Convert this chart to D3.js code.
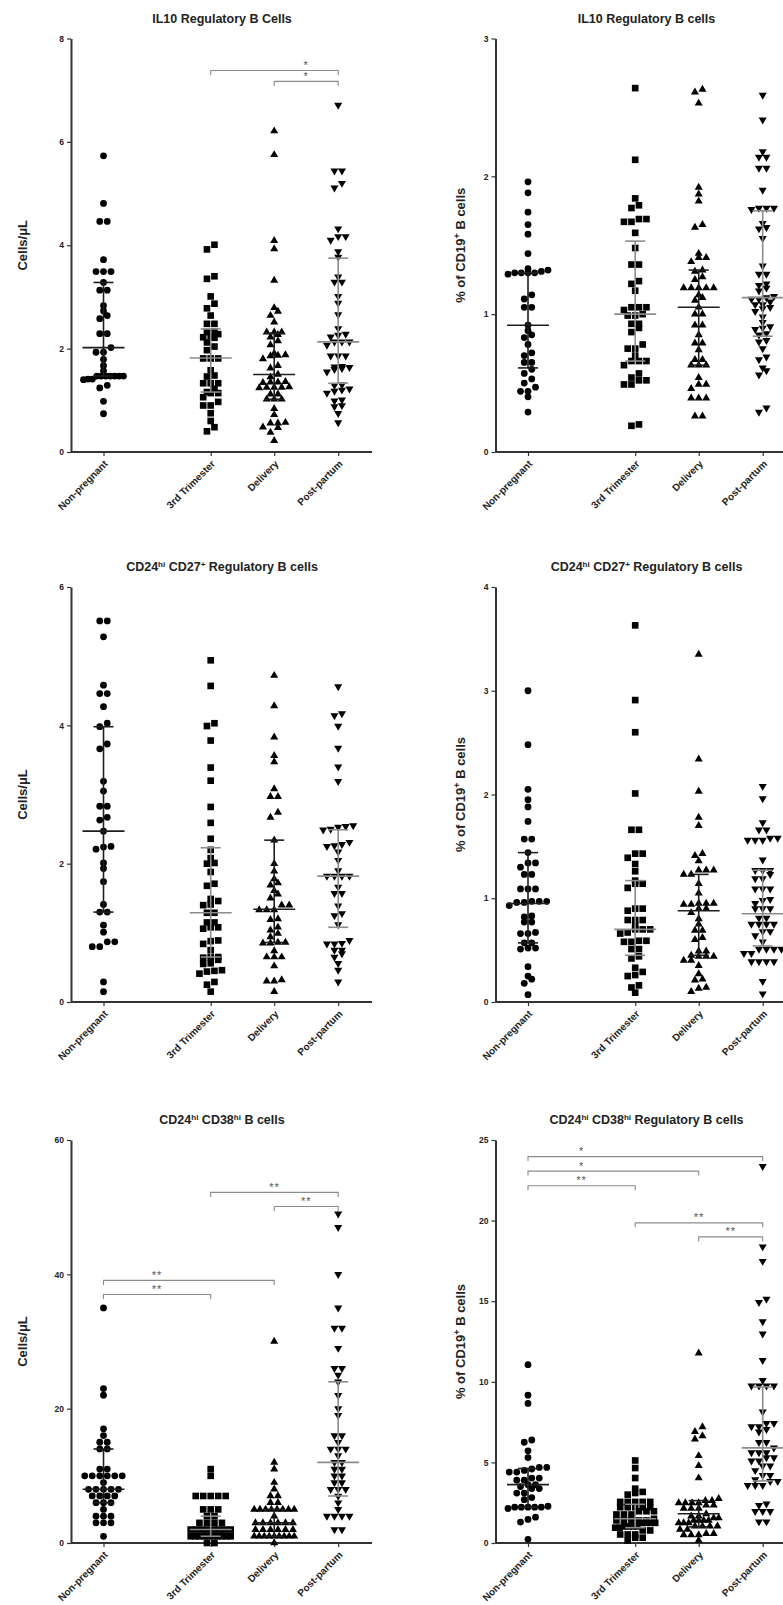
<!DOCTYPE html>
<html>
<head>
<meta charset="utf-8">
<script src="https://cdn.jsdelivr.net/npm/d3@7"></script>
<style>
  body { margin: 0; background: #fff; }
  svg { display: block; font-family: "Liberation Sans", Arial, sans-serif; }
</style>
</head>
<body>
<div id="chart"></div>
<script>
// Gruppen (x-Achse)
const groups = ["Non-pregnant", "3rd Trimester", "Delivery", "Post-partum"];

// Panel 1: IL10 Regulatory B Cells, Cells/μL
const il10CountNP = [5.73, 4.81, 4.46, 4.46, 3.72, 3.49, 3.49, 3.49, 3.28, 3.13, 3.13, 2.83, 2.73, 2.64, 2.58, 2.29, 2.29, 2.02, 1.93, 1.93, 1.79, 1.67, 1.57, 1.47, 1.47, 1.47, 1.47, 1.47, 1.47, 1.47, 1.41, 1.41, 1.40, 1.29, 1.24, 0.98, 0.74];
const il10CountT3 = [4.01, 3.92, 3.40, 3.35, 3.01, 2.87, 2.78, 2.64, 2.48, 2.48, 2.33, 2.32, 2.28, 2.24, 2.22, 2.21, 2.12, 2.04, 1.97, 1.81, 1.81, 1.81, 1.58, 1.48, 1.46, 1.33, 1.33, 1.33, 1.22, 1.16, 1.14, 1.14, 1.06, 0.97, 0.90, 0.90, 0.75, 0.60, 0.48, 0.40];
const il10CountDel = [6.21, 5.75, 4.09, 3.93, 3.32, 2.79, 2.72, 2.64, 2.51, 2.32, 2.32, 2.32, 2.27, 2.22, 2.15, 2.07, 1.91, 1.88, 1.87, 1.86, 1.80, 1.67, 1.62, 1.50, 1.45, 1.36, 1.35, 1.35, 1.34, 1.26, 1.25, 1.25, 1.25, 1.24, 1.12, 1.12, 1.02, 1.02, 1.02, 0.84, 0.72, 0.57, 0.56, 0.56, 0.48, 0.47, 0.38, 0.22];
const il10CountPP = [6.71, 5.44, 5.44, 5.20, 5.11, 4.32, 4.17, 4.17, 4.10, 3.88, 3.77, 3.39, 3.29, 3.29, 3.01, 2.88, 2.66, 2.39, 2.28, 2.26, 2.23, 2.13, 2.13, 2.13, 2.07, 1.86, 1.86, 1.86, 1.66, 1.65, 1.64, 1.62, 1.60, 1.55, 1.30, 1.29, 1.22, 1.20, 1.18, 1.14, 1.01, 0.99, 0.90, 0.88, 0.75, 0.57];
const il10CountIQR = [[1.47, 2.02, 3.28], [1.16, 1.82, 2.38], [1.02, 1.50, 2.30], [1.33, 2.13, 3.75]]; // Q1, Median, Q3
const il10CountSig = [
  {from: "3rd Trimester", to: "Post-partum", at: 7.38, label: "*", over: ["Delivery", "Post-partum"]},
  {from: "Delivery", to: "Post-partum", at: 7.17, label: "*", over: ["Delivery", "Post-partum"]}
];

// Panel 2: IL10 Regulatory B cells, % of CD19+
const il10PctNP = [1.96, 1.88, 1.74, 1.65, 1.58, 1.44, 1.33, 1.32, 1.31, 1.30, 1.30, 1.30, 1.30, 1.29, 1.14, 1.11, 1.05, 1.05, 0.92, 0.88, 0.85, 0.83, 0.78, 0.72, 0.70, 0.65, 0.65, 0.60, 0.57, 0.53, 0.50, 0.47, 0.44, 0.44, 0.40, 0.29];
const il10PctT3 = [2.64, 2.12, 1.84, 1.79, 1.77, 1.69, 1.69, 1.67, 1.67, 1.59, 1.48, 1.36, 1.36, 1.24, 1.22, 1.17, 1.05, 1.05, 1.05, 1.03, 1.00, 0.99, 0.99, 0.93, 0.93, 0.90, 0.87, 0.78, 0.75, 0.75, 0.70, 0.66, 0.66, 0.66, 0.63, 0.57, 0.54, 0.52, 0.52, 0.49, 0.49, 0.20, 0.19];
const il10PctDel = [2.63, 2.61, 2.53, 1.92, 1.87, 1.82, 1.65, 1.63, 1.44, 1.41, 1.41, 1.38, 1.32, 1.31, 1.27, 1.25, 1.19, 1.19, 1.19, 1.19, 1.19, 1.14, 1.12, 1.10, 1.05, 1.00, 1.00, 0.92, 0.92, 0.85, 0.79, 0.79, 0.74, 0.67, 0.67, 0.63, 0.63, 0.63, 0.54, 0.49, 0.49, 0.46, 0.39, 0.39, 0.39, 0.26, 0.26];
const il10PctPP = [2.59, 2.41, 2.18, 2.14, 2.14, 2.06, 2.06, 1.90, 1.77, 1.77, 1.77, 1.76, 1.66, 1.63, 1.62, 1.55, 1.35, 1.29, 1.29, 1.22, 1.21, 1.19, 1.17, 1.13, 1.12, 1.11, 1.11, 1.09, 1.07, 1.07, 1.05, 1.04, 1.02, 0.98, 0.94, 0.91, 0.90, 0.89, 0.86, 0.85, 0.81, 0.80, 0.75, 0.69, 0.67, 0.61, 0.59, 0.56, 0.32, 0.29];
const il10PctIQR = [[0.61, 0.92, 1.30], [0.66, 1.00, 1.53], [0.63, 1.05, 1.32], [0.84, 1.12, 1.75]];

// Panel 3: CD24hi CD27+ Regulatory B cells, Cells/μL
const cd27CountNP = [5.51, 5.51, 5.28, 4.58, 4.46, 4.46, 4.27, 4.03, 3.98, 3.73, 3.66, 3.19, 3.05, 2.83, 2.83, 2.67, 2.63, 2.47, 2.25, 2.24, 2.21, 2.01, 1.93, 1.74, 1.41, 1.30, 1.30, 1.11, 1.01, 0.87, 0.87, 0.80, 0.80, 0.29, 0.15];
const cd27CountT3 = [4.94, 4.57, 4.03, 3.99, 3.78, 3.39, 3.20, 2.82, 2.59, 2.36, 2.20, 2.08, 2.01, 2.00, 1.88, 1.71, 1.68, 1.49, 1.46, 1.41, 1.40, 1.29, 1.29, 1.15, 1.15, 1.08, 1.08, 1.06, 0.89, 0.88, 0.84, 0.75, 0.65, 0.65, 0.64, 0.61, 0.56, 0.55, 0.46, 0.45, 0.44, 0.41, 0.29, 0.25, 0.15];
const cd27CountDel = [4.72, 4.28, 3.83, 3.56, 3.47, 3.08, 2.97, 2.97, 2.74, 2.67, 2.34, 2.00, 1.89, 1.78, 1.72, 1.69, 1.61, 1.56, 1.50, 1.40, 1.40, 1.33, 1.33, 1.33, 1.20, 1.19, 1.08, 1.04, 0.99, 0.94, 0.86, 0.86, 0.85, 0.85, 0.74, 0.65, 0.65, 0.65, 0.52, 0.32, 0.30, 0.30, 0.15];
const cd27CountPP = [4.56, 4.17, 4.14, 3.99, 3.67, 3.40, 3.19, 2.55, 2.54, 2.53, 2.50, 2.49, 2.31, 2.28, 2.26, 2.25, 2.17, 2.05, 1.90, 1.82, 1.82, 1.82, 1.82, 1.66, 1.57, 1.57, 1.39, 1.28, 1.25, 1.12, 0.89, 0.85, 0.84, 0.84, 0.75, 0.75, 0.70, 0.65, 0.56, 0.46, 0.29];
const cd27CountIQR = [[1.30, 2.47, 3.98], [0.65, 1.29, 2.23], [0.86, 1.34, 2.34], [1.08, 1.82, 2.49]];

// Panel 4: CD24hi CD27+ Regulatory B cells, % of CD19+
const cd27PctNP = [3.00, 2.48, 2.05, 1.95, 1.88, 1.74, 1.57, 1.57, 1.44, 1.34, 1.34, 1.30, 1.23, 1.23, 1.09, 1.09, 1.09, 0.97, 0.97, 0.97, 0.96, 0.96, 0.93, 0.83, 0.82, 0.77, 0.77, 0.67, 0.66, 0.66, 0.57, 0.57, 0.52, 0.52, 0.51, 0.34, 0.25, 0.22, 0.18, 0.07];
const cd27PctT3 = [3.63, 2.91, 2.60, 2.01, 1.66, 1.66, 1.43, 1.43, 1.39, 1.33, 1.26, 1.17, 1.14, 1.14, 1.10, 0.90, 0.90, 0.88, 0.79, 0.79, 0.79, 0.74, 0.70, 0.70, 0.70, 0.67, 0.66, 0.59, 0.59, 0.58, 0.58, 0.51, 0.51, 0.44, 0.42, 0.33, 0.29, 0.26, 0.25, 0.16, 0.14, 0.09];
const cd27PctDel = [3.35, 2.34, 2.03, 1.78, 1.70, 1.43, 1.41, 1.36, 1.27, 1.27, 1.27, 1.23, 1.23, 1.14, 1.05, 0.95, 0.95, 0.95, 0.94, 0.94, 0.90, 0.90, 0.86, 0.80, 0.75, 0.69, 0.69, 0.62, 0.60, 0.49, 0.49, 0.45, 0.44, 0.44, 0.44, 0.40, 0.40, 0.35, 0.27, 0.22, 0.21, 0.14, 0.13, 0.10];
const cd27PctPP = [2.08, 1.96, 1.73, 1.66, 1.66, 1.58, 1.58, 1.56, 1.56, 1.56, 1.37, 1.27, 1.27, 1.27, 1.23, 1.19, 1.19, 1.09, 1.09, 1.09, 0.99, 0.98, 0.95, 0.90, 0.90, 0.90, 0.81, 0.81, 0.75, 0.75, 0.75, 0.75, 0.68, 0.68, 0.64, 0.58, 0.51, 0.51, 0.51, 0.51, 0.47, 0.47, 0.39, 0.39, 0.39, 0.39, 0.20, 0.08];
const cd27PctIQR = [[0.57, 0.95, 1.44], [0.45, 0.70, 1.17], [0.45, 0.88, 1.23], [0.54, 0.85, 1.27]];

// Panel 5: CD24hi CD38hi B cells, Cells/μL
const cd38CountNP = [35, 23, 22, 17, 16, 15, 15, 14, 14, 11, 11, 10, 10, 10, 10, 10, 10, 9, 8, 8, 8, 8, 8, 7, 7, 7, 7, 6, 6, 6, 5, 4, 4, 4, 3, 3, 3, 1];
const cd38CountT3 = [11, 10, 7, 7, 7, 7, 7, 5, 5, 5, 4, 4, 3, 3, 3, 3, 2, 2, 2, 2, 2, 2, 2, 2, 1, 1, 1, 1, 1, 1, 1, 1, 1, 1, 0, 0];
const cd38CountDel = [30, 12, 11, 9, 8, 7, 7, 6, 6, 5, 5, 5, 5, 5, 5, 5, 5, 4, 3, 3, 3, 3, 3, 3, 2, 2, 2, 2, 2, 2, 1, 1, 1, 1, 1, 1, 1, 1, 1, 0];
const cd38CountPP = [49, 47, 40, 35, 32, 32, 29, 26, 26, 25, 24, 22, 20, 19, 16, 16, 15, 14, 14, 14, 13, 12, 12, 11, 11, 10, 10, 9, 9, 8, 8, 8, 7, 6, 5, 4, 4, 4, 4, 2, 2];
const cd38CountIQR = [[6, 8, 14], [1, 2, 4], [1, 3, 5], [7, 12, 24]];
const cd38CountSig = [
  {from: "3rd Trimester", to: "Post-partum", at: 52.2, label: "**", over: ["3rd Trimester", "Post-partum"]},
  {from: "Delivery", to: "Post-partum", at: 50.1, label: "**", over: ["Delivery", "Post-partum"]},
  {from: "Non-pregnant", to: "Delivery", at: 39.1, label: "**", over: ["Non-pregnant", "3rd Trimester"]},
  {from: "Non-pregnant", to: "3rd Trimester", at: 37.0, label: "**", over: ["Non-pregnant", "3rd Trimester"]}
];

// Panel 6: CD24hi CD38hi Regulatory B cells, % of CD19+
const cd38PctNP = [11.06, 9.17, 8.66, 6.39, 6.25, 5.72, 5.30, 4.69, 4.69, 4.59, 4.50, 4.40, 4.40, 4.03, 4.03, 3.90, 3.90, 3.62, 3.62, 3.50, 3.38, 3.38, 3.10, 3.10, 2.82, 2.69, 2.28, 2.22, 2.22, 2.22, 2.22, 2.22, 2.14, 1.60, 1.46, 1.30, 0.23];
const cd38PctT3 = [5.12, 4.65, 4.03, 3.37, 3.17, 3.10, 3.00, 2.55, 2.55, 2.55, 2.55, 2.55, 2.22, 2.22, 2.22, 2.22, 2.22, 1.97, 1.97, 1.97, 1.77, 1.77, 1.77, 1.50, 1.40, 1.40, 1.40, 1.40, 1.40, 1.25, 1.25, 1.25, 1.25, 1.03, 1.03, 1.03, 1.03, 0.95, 0.95, 0.78, 0.78, 0.53, 0.53, 0.53, 0.33, 0.33, 0.16];
const cd38PctDel = [11.78, 7.20, 6.91, 6.64, 6.44, 5.41, 4.79, 4.03, 2.75, 2.63, 2.63, 2.49, 2.49, 2.49, 2.49, 2.34, 2.34, 2.14, 2.14, 2.14, 1.81, 1.67, 1.67, 1.56, 1.56, 1.40, 1.40, 1.40, 1.40, 1.25, 1.25, 1.25, 1.05, 1.05, 1.05, 1.05, 0.84, 0.84, 0.58, 0.58, 0.50, 0.50, 0.50, 0.16];
const cd38PctPP = [23.36, 18.38, 17.48, 15.13, 14.93, 13.73, 12.97, 11.33, 10.09, 9.75, 9.75, 9.75, 9.75, 8.14, 7.42, 7.42, 7.22, 7.22, 7.05, 6.90, 6.25, 6.25, 5.90, 5.61, 5.61, 5.61, 5.30, 5.30, 5.10, 5.10, 4.79, 4.79, 4.50, 4.20, 4.20, 3.93, 3.82, 3.82, 3.58, 3.58, 3.58, 2.43, 2.34, 1.97, 1.97, 1.97, 1.32, 1.32];
const cd38PctIQR = [[2.22, 3.62, 4.62], [0.95, 1.50, 2.40], [1.00, 1.81, 2.63], [3.85, 5.90, 9.68]];
const cd38PctSig = [
  {from: "Non-pregnant", to: "Post-partum", at: 23.97, label: "*", over: ["Non-pregnant", "3rd Trimester"]},
  {from: "Non-pregnant", to: "Delivery", at: 23.07, label: "*", over: ["Non-pregnant", "3rd Trimester"]},
  {from: "Non-pregnant", to: "3rd Trimester", at: 22.16, label: "**", over: ["Non-pregnant", "3rd Trimester"]},
  {from: "3rd Trimester", to: "Post-partum", at: 19.86, label: "**", over: ["3rd Trimester", "Post-partum"]},
  {from: "Delivery", to: "Post-partum", at: 18.99, label: "**", over: ["Delivery", "Post-partum"]}
];

const panels = [
  {title: "IL10 Regulatory B Cells", yLabel: "Cells/μL", yMax: 8, ticks: [0, 2, 4, 6, 8],
   series: [il10CountNP, il10CountT3, il10CountDel, il10CountPP], iqr: il10CountIQR, sig: il10CountSig, row: 0, col: 0},
  {title: "IL10 Regulatory B cells", yLabel: "% of CD19^+ B cells", yMax: 3, ticks: [0, 1, 2, 3],
   series: [il10PctNP, il10PctT3, il10PctDel, il10PctPP], iqr: il10PctIQR, sig: [], row: 0, col: 1},
  {title: "CD24^hi CD27^+ Regulatory B cells", yLabel: "Cells/μL", yMax: 6, ticks: [0, 2, 4, 6],
   series: [cd27CountNP, cd27CountT3, cd27CountDel, cd27CountPP], iqr: cd27CountIQR, sig: [], row: 1, col: 0},
  {title: "CD24^hi CD27^+ Regulatory B cells", yLabel: "% of CD19^+ B cells", yMax: 4, ticks: [0, 1, 2, 3, 4],
   series: [cd27PctNP, cd27PctT3, cd27PctDel, cd27PctPP], iqr: cd27PctIQR, sig: [], row: 1, col: 1},
  {title: "CD24^hi CD38^hi B cells", yLabel: "Cells/μL", yMax: 60, ticks: [0, 20, 40, 60],
   series: [cd38CountNP, cd38CountT3, cd38CountDel, cd38CountPP], iqr: cd38CountIQR, sig: cd38CountSig, row: 2, col: 0},
  {title: "CD24^hi CD38^hi Regulatory B cells", yLabel: "% of CD19^+ B cells", yMax: 25, ticks: [0, 5, 10, 15, 20, 25],
   series: [cd38PctNP, cd38PctT3, cd38PctDel, cd38PctPP], iqr: cd38PctIQR, sig: cd38PctSig, row: 2, col: 1}
];

// Layout
const width = 783, height = 1605;
const rows = [{top: 38.5, bottom: 452}, {top: 587, bottom: 1002}, {top: 1140, bottom: 1543}];
const cols = [71, 495.5];
const yLabelX = [22, 460.5];
const catOffset = [32.5, 139.7, 203.2, 267.2];
const axisLen = 301;

// Marker-Stil je Gruppe
const symbolTypes = [d3.symbolCircle, d3.symbolSquare, d3.symbolTriangle, d3.symbolTriangle];
const symbolSizes = [36, 44, 28, 28];
const symbolRotate = [0, 0, 0, 180];
const barColors = ["#1e1e1e", "#8c8c8c", "#1e1e1e", "#8c8c8c"];

const svg = d3.select("#chart").append("svg")
    .attr("width", width)
    .attr("height", height);

// Text mit Hochstellungen (^hi, ^+)
function richText(sel, str, supSize) {
  str.split(/(\^\S+)/).filter(s => s.length).forEach(part => {
    if (part[0] === "^") {
      sel.append("tspan").attr("baseline-shift", "super").attr("font-size", supSize).text(part.slice(1));
    } else {
      sel.append("tspan").text(part);
    }
  });
}

// Spalten-Streuung ähnlich wie Prism: Punkte mit fast gleichem y teilen eine Reihe
function scatterRows(values, y) {
  const pts = values.map(v => ({v, py: y(v)})).sort((a, b) => b.py - a.py);
  let i = 0;
  while (i < pts.length) {
    let j = i;
    while (j < pts.length && pts[i].py - pts[j].py < 5) j++;
    const n = j - i;
    const step = n > 1 ? Math.min(7.5, 40 / (n - 1)) : 0;
    for (let k = i; k < j; k++) pts[k].dx = (k - i - (n - 1) / 2) * step;
    i = j;
  }
  return pts;
}

panels.forEach(p => {
  const r = rows[p.row];
  const x0 = cols[p.col];
  const g = svg.append("g");

  const y = d3.scaleLinear().domain([0, p.yMax]).range([r.bottom, r.top]);
  const x = d3.scaleOrdinal().domain(groups).range(catOffset.map(o => x0 + o));

  // Titel
  const title = g.append("text")
      .attr("x", x0 + 151)
      .attr("y", r.top - 16)
      .attr("text-anchor", "middle")
      .attr("font-size", 12.5)
      .attr("font-weight", "bold")
      .attr("fill", "#222");
  richText(title, p.title, 8);

  // y-Achse
  const yAxis = g.append("g")
      .attr("transform", `translate(${x0},0)`)
      .call(d3.axisLeft(y).tickValues(p.ticks).tickFormat(d3.format("d"))
        .tickSize(4).tickSizeOuter(0).tickPadding(3));
  yAxis.attr("font-family", null).attr("font-size", null);
  yAxis.select(".domain").attr("stroke", "#333").attr("stroke-width", 2);
  yAxis.selectAll(".tick line").attr("stroke", "#333").attr("stroke-width", 1.2);
  yAxis.selectAll(".tick text")
      .attr("font-size", 8.5)
      .attr("font-weight", "bold")
      .attr("fill", "#222");

  // y-Achsenbeschriftung
  const yl = g.append("text")
      .attr("transform", `translate(${yLabelX[p.col]},${(r.top + r.bottom) / 2}) rotate(-90)`)
      .attr("text-anchor", "middle")
      .attr("dy", "0.35em")
      .attr("font-size", 13)
      .attr("font-weight", "bold")
      .attr("fill", "#222");
  richText(yl, p.yLabel, 9);

  // x-Achse
  g.append("line")
      .attr("x1", x0).attr("x2", x0 + axisLen)
      .attr("y1", r.bottom).attr("y2", r.bottom)
      .attr("stroke", "#333").attr("stroke-width", 2);

  const xAxis = g.append("g")
      .attr("transform", `translate(0,${r.bottom})`)
      .call(d3.axisBottom(x).tickSize(4).tickSizeOuter(0));
  xAxis.select(".domain").remove();
  xAxis.attr("font-family", null).attr("font-size", null);
  xAxis.selectAll(".tick line").attr("stroke", "#333").attr("stroke-width", 1.2);
  xAxis.selectAll(".tick text")
      .attr("y", 0)
      .attr("dy", "0.35em")
      .attr("transform", "translate(2,10) rotate(-45)")
      .attr("text-anchor", "end")
      .attr("font-size", 10)
      .attr("font-weight", "bold")
      .attr("fill", "#222");

  // Datenpunkte
  p.series.forEach((vals, gi) => {
    const pts = scatterRows(vals, y);
    const sym = d3.symbol().type(symbolTypes[gi]).size(symbolSizes[gi]);
    g.append("g").selectAll("path")
        .data(pts)
        .enter()
        .append("path")
        .attr("d", sym)
        .attr("transform", d => `translate(${x(groups[gi]) + d.dx},${d.py}) rotate(${symbolRotate[gi]})`)
        .attr("fill", "#000");
  });

  // Median mit Interquartilsabstand
  p.iqr.forEach((q, gi) => {
    const cx = x(groups[gi]);
    const bar = g.append("g").attr("stroke", barColors[gi]).attr("stroke-width", 1.6).attr("fill", "none");
    bar.append("line").attr("x1", cx).attr("x2", cx).attr("y1", y(q[0])).attr("y2", y(q[2]));
    bar.append("line").attr("x1", cx - 10).attr("x2", cx + 10).attr("y1", y(q[0])).attr("y2", y(q[0]));
    bar.append("line").attr("x1", cx - 10).attr("x2", cx + 10).attr("y1", y(q[2])).attr("y2", y(q[2]));
    bar.append("line").attr("x1", cx - 21).attr("x2", cx + 21).attr("y1", y(q[1])).attr("y2", y(q[1]));
  });

  // Signifikanz-Klammern
  p.sig.forEach(s => {
    const yy = y(s.at);
    g.append("path")
        .attr("d", `M${x(s.from)},${yy + 4.5}V${yy}H${x(s.to)}V${yy + 4.5}`)
        .attr("fill", "none")
        .attr("stroke", "#8c8c8c")
        .attr("stroke-width", 1.1);
    g.append("text")
        .attr("x", (x(s.over[0]) + x(s.over[1])) / 2)
        .attr("y", yy - 1.5)
        .attr("text-anchor", "middle")
        .attr("font-size", 11)
        .attr("letter-spacing", 1)
        .attr("fill", "#555")
        .text(s.label);
  });
});
</script>
</body>
</html>
